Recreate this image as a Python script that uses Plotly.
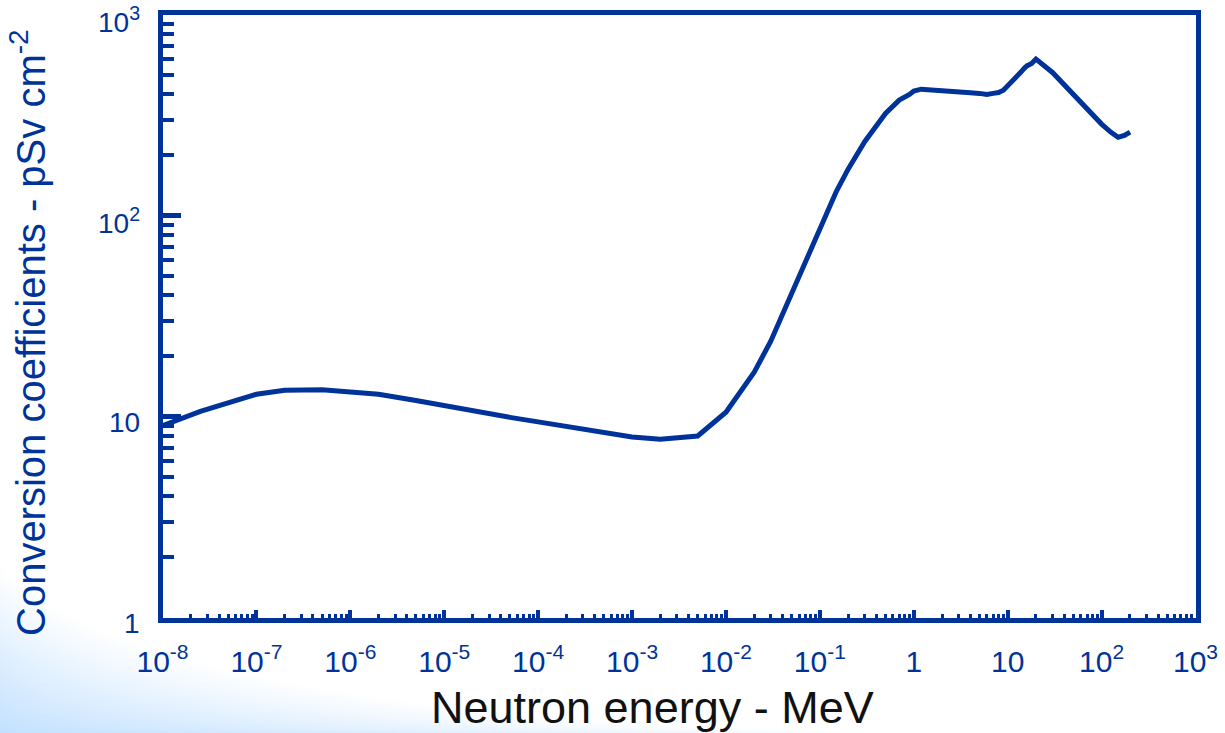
import math
import plotly.graph_objects as go

# Fluence-to-ambient-dose-equivalent conversion coefficients, H*(10)/fluence
energy_mev = [1.0e-8, 2.53e-8, 1.0e-7, 2.0e-7, 5.0e-7, 1.0e-6, 2.0e-6, 5.0e-6,
              1.0e-5, 2.0e-5, 5.0e-5, 1.0e-4, 2.0e-4, 5.0e-4, 1.0e-3, 2.0e-3,
              5.0e-3, 1.0e-2, 2.0e-2, 3.0e-2, 5.0e-2, 7.0e-2, 1.0e-1, 1.5e-1,
              2.0e-1, 3.0e-1, 5.0e-1, 7.0e-1, 9.0e-1, 1.0, 1.2, 2.0, 3.0, 4.0,
              5.0, 6.0, 7.0, 8.0, 9.0, 10.0, 12.0, 14.0, 15.0, 16.0, 18.0,
              20.0, 30.0, 50.0, 75.0, 100.0, 125.0, 150.0, 175.0, 201.0]
coeff_psv_cm2 = [9.00, 10.6, 12.9, 13.5, 13.6, 13.3, 12.9, 12.0,
                 11.3, 10.6, 9.90, 9.40, 8.90, 8.30, 7.90, 7.70,
                 8.00, 10.5, 16.6, 23.7, 41.1, 60.0, 88.0, 132,
                 170, 233, 322, 375, 400, 416, 425, 420, 412, 408,
                 405, 400, 405, 409, 420, 440, 480, 520, 540, 555, 570,
                 600, 515, 400, 330, 285, 260, 245, 250, 260]

x_tick_vals = [1e-8, 1e-7, 1e-6, 1e-5, 1e-4, 1e-3, 1e-2, 1e-1, 1, 10, 100, 1000]
x_tick_text = ["10<sup>-8</sup>", "10<sup>-7</sup>", "10<sup>-6</sup>", "10<sup>-5</sup>",
               "10<sup>-4</sup>", "10<sup>-3</sup>", "10<sup>-2</sup>", "10<sup>-1</sup>",
               "1", "10", "10<sup>2</sup>", "10<sup>3</sup>"]
y_tick_vals = [1, 10, 100, 1000]
y_tick_text = ["1", "10", "10<sup>2</sup>", "10<sup>3</sup>"]

W, H = 1225, 733
BLUE = "#003399"
FONT = "Liberation Sans, Arial, sans-serif"

# plot frame in pixels
left, right, top, bottom = 162.5, 1195.5, 14.5, 617.5


def minor_positions(lo, hi):
    vals = []
    for e in range(lo, hi):
        for d in range(2, 10):
            vals.append(d * 10.0 ** e)
    return vals


def px(x, y):
    return x / W, 1 - y / H


fig = go.Figure()
fig.add_trace(go.Scatter(
    x=energy_mev, y=coeff_psv_cm2, mode="lines",
    line=dict(color=BLUE, width=5), hoverinfo="skip", showlegend=False,
))

# soft blue wash in the lower-left corner of the slide, built from
# nested translucent bands that grow out of the corner
shapes = []
n_layers = 30
for k in range(n_layers):
    f = (k + 1) / n_layers
    a = px(0, H - 165 * f)
    c = px(150 * f, H - 13 * f)
    b = px(900 * f, H)
    path = "M 0,0 L {:.5f},{:.5f} Q {:.5f},{:.5f} {:.5f},{:.5f} Z".format(
        a[0], a[1], c[0], c[1], b[0], b[1])
    shapes.append(dict(type="path", path=path, xref="paper", yref="paper",
                       fillcolor="rgba(150,190,240,0.017)", line=dict(width=0),
                       layer="below"))

# y tick labels, placed at their decade values and nudged below the tick
y_labels = [
    dict(text=t, x=left / W, xref="paper", y=math.log10(v), yref="y",
         xanchor="right", yanchor="middle", xshift=-21, yshift=-6,
         showarrow=False, font=dict(family=FONT, size=28, color=BLUE))
    for v, t in zip(y_tick_vals, y_tick_text)
]

fig.update_layout(
    width=W, height=H,
    template="none",
    paper_bgcolor="white", plot_bgcolor="white",
    margin=dict(l=0, r=0, t=0, b=0),
    font=dict(family=FONT, color=BLUE),
    shapes=shapes,
    xaxis=dict(
        type="log", range=[-8, 3], domain=[left / W, right / W],
        showline=True, linecolor=BLUE, linewidth=5, mirror=True,
        showgrid=False, zeroline=False, automargin=False,
        tickmode="array", tickvals=x_tick_vals, ticktext=x_tick_text,
        ticks="inside", ticklen=8, tickwidth=4, tickcolor=BLUE,
        ticklabelstandoff=13, ticklabeloverflow="allow",
        tickfont=dict(family=FONT, size=30, color=BLUE),
        minor=dict(tickmode="array", tickvals=minor_positions(-8, 3),
                   ticks="inside", ticklen=4, tickwidth=3, tickcolor=BLUE,
                   showgrid=False),
    ),
    yaxis=dict(
        type="log", range=[0, 3], domain=[1 - bottom / H, 1 - top / H],
        showline=True, linecolor=BLUE, linewidth=5, mirror=True,
        showgrid=False, zeroline=False, automargin=False,
        tickmode="array", tickvals=y_tick_vals, showticklabels=False,
        ticks="inside", ticklen=18, tickwidth=5, tickcolor=BLUE,
        minor=dict(tickmode="array", tickvals=minor_positions(0, 3),
                   ticks="inside", ticklen=11, tickwidth=4, tickcolor=BLUE,
                   showgrid=False),
    ),
    annotations=y_labels + [
        dict(text="Neutron energy - MeV", x=652 / W, y=1 - 707 / H,
             xref="paper", yref="paper", showarrow=False,
             xanchor="center", yanchor="middle",
             font=dict(family=FONT, size=45, color="#111111")),
        dict(text="Conversion coefficients - pSv cm<sup>-2</sup>",
             x=28 / W, y=1 - 333 / H, xref="paper", yref="paper",
             showarrow=False, textangle=-90,
             xanchor="center", yanchor="middle",
             font=dict(family=FONT, size=40, color=BLUE)),
    ],
)

fig.write_html("out.html")
